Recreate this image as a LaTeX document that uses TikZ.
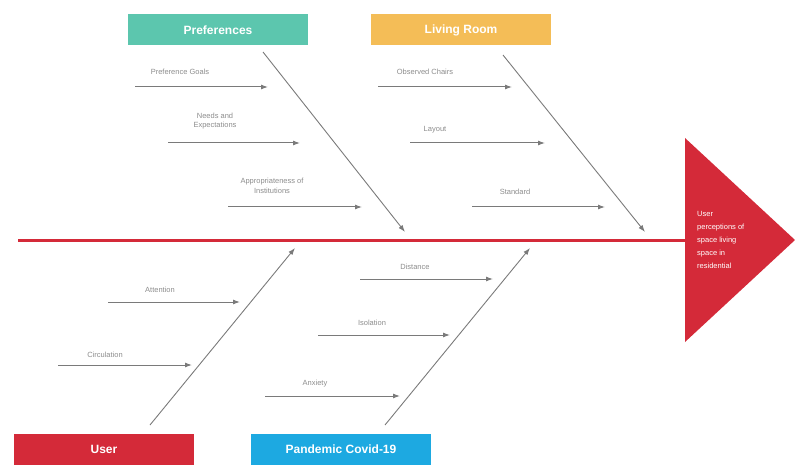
\documentclass[tikz,border=0pt]{standalone}
\usepackage{fontspec}
\setmainfont{Liberation Sans}
\usetikzlibrary{arrows.meta}
\definecolor{prefgreen}{HTML}{5CC6AE}
\definecolor{roomyellow}{HTML}{F4BD57}
\definecolor{userred}{HTML}{D42A39}
\definecolor{covidblue}{HTML}{1DA9E1}
\definecolor{bonegray}{HTML}{7A7A7A}
\tikzset{
  catbox/.style={minimum width=180pt,minimum height=31pt,inner sep=0pt,
    text=white,font=\bfseries\fontsize{12}{14}\selectfont},
  bone/.style={draw=bonegray,line width=0.9pt,-{Latex[length=7pt,width=5pt]}},
  sub/.style={draw=bonegray,line width=1pt,-{Latex[length=7pt,width=5pt]}},
  lbl/.style={text=gray!90,font=\fontsize{7.5}{9.5}\selectfont,align=center,inner sep=1pt}
}
\begin{document}
\begin{tikzpicture}[x=1pt,y=-1pt]
  \useasboundingbox (0,0) rectangle (795,465);
  % head and spine
  \fill[userred] (685,138) -- (795,240) -- (685,342) -- cycle;
  \node[anchor=west,text=white,align=left,font=\fontsize{7.5}{13}\selectfont,inner sep=0pt] (effect) at (697,240)
    {User\\perceptions of\\space living\\space in\\residential};
  \coordinate (tail) at (18,240);
  \coordinate (headL) at (686,240);
  \draw[userred,line width=3pt] (tail) -- (headL);
  % categories
  \node[catbox,fill=prefgreen] (pref) at (218,30) {Preferences};
  \node[catbox,fill=roomyellow] (room) at (461,30) {Living Room};
  \node[catbox,fill=userred] (user) at (104,449) {User};
  \node[catbox,fill=covidblue] (covid) at (341,449) {Pandemic Covid-19};
  % main bones
  \coordinate (pref-a) at (263,52);  \coordinate (pref-b) at (405,232);
  \coordinate (room-a) at (503,55);  \coordinate (room-b) at (645,232);
  \coordinate (user-a) at (150,425); \coordinate (user-b) at (295,248);
  \coordinate (covid-a) at (385,425); \coordinate (covid-b) at (530,248);
  \draw[bone] (pref-a) -- (pref-b);
  \draw[bone] (room-a) -- (room-b);
  \draw[bone] (user-a) -- (user-b);
  \draw[bone] (covid-a) -- (covid-b);
  % causes
  \foreach \n/\xa/\xb/\y/\tx/\ty/\t in {
      goals/135/268/87/180/72/{Preference Goals},
      needs/168/300/143/215/121/{Needs and\\Expectations},
      approp/228/362/207/272/186/{Appropriateness of\\Institutions},
      chairs/378/512/87/425/72/{Observed Chairs},
      layout/410/545/143/435/130/{Layout},
      standard/472/605/207/515/192/{Standard},
      attention/108/240/302/160/290/{Attention},
      circ/58/192/365/105/355/{Circulation},
      distance/360/493/279/415/267/{Distance},
      isolation/318/450/335/372/323/{Isolation},
      anxiety/265/400/396/315/384/{Anxiety}} {
    \coordinate (\n-s) at (\xa,\y);
    \coordinate (\n-e) at (\xb,\y);
    \draw[sub] (\n-s) -- (\n-e);
    \node[lbl] (\n) at (\tx,\ty) {\t};
  }
\end{tikzpicture}
\end{document}
